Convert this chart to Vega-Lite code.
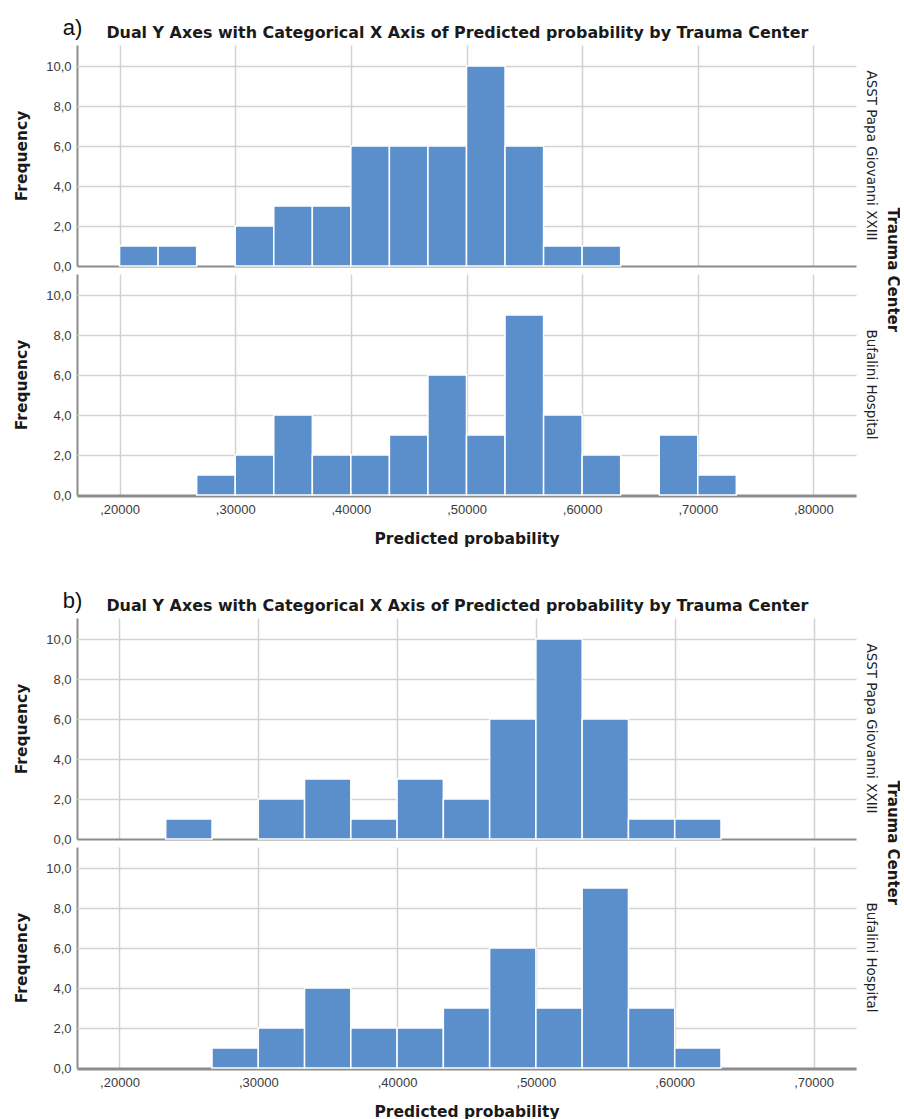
{
  "$schema": "https://vega.github.io/schema/vega-lite/v6.json",
  "background": "white",
  "padding": {"left": 14, "top": 17, "right": 0, "bottom": 0},
  "spacing": 43,
  "datasets": {
    "a": [
      {"center": "ASST Papa Giovanni XXIII", "lo": 0.20000, "hi": 0.23333, "n": 1},
      {"center": "ASST Papa Giovanni XXIII", "lo": 0.23333, "hi": 0.26667, "n": 1},
      {"center": "ASST Papa Giovanni XXIII", "lo": 0.30000, "hi": 0.33333, "n": 2},
      {"center": "ASST Papa Giovanni XXIII", "lo": 0.33333, "hi": 0.36667, "n": 3},
      {"center": "ASST Papa Giovanni XXIII", "lo": 0.36667, "hi": 0.40000, "n": 3},
      {"center": "ASST Papa Giovanni XXIII", "lo": 0.40000, "hi": 0.43333, "n": 6},
      {"center": "ASST Papa Giovanni XXIII", "lo": 0.43333, "hi": 0.46667, "n": 6},
      {"center": "ASST Papa Giovanni XXIII", "lo": 0.46667, "hi": 0.50000, "n": 6},
      {"center": "ASST Papa Giovanni XXIII", "lo": 0.50000, "hi": 0.53333, "n": 10},
      {"center": "ASST Papa Giovanni XXIII", "lo": 0.53333, "hi": 0.56667, "n": 6},
      {"center": "ASST Papa Giovanni XXIII", "lo": 0.56667, "hi": 0.60000, "n": 1},
      {"center": "ASST Papa Giovanni XXIII", "lo": 0.60000, "hi": 0.63333, "n": 1},
      {"center": "Bufalini Hospital", "lo": 0.26667, "hi": 0.30000, "n": 1},
      {"center": "Bufalini Hospital", "lo": 0.30000, "hi": 0.33333, "n": 2},
      {"center": "Bufalini Hospital", "lo": 0.33333, "hi": 0.36667, "n": 4},
      {"center": "Bufalini Hospital", "lo": 0.36667, "hi": 0.40000, "n": 2},
      {"center": "Bufalini Hospital", "lo": 0.40000, "hi": 0.43333, "n": 2},
      {"center": "Bufalini Hospital", "lo": 0.43333, "hi": 0.46667, "n": 3},
      {"center": "Bufalini Hospital", "lo": 0.46667, "hi": 0.50000, "n": 6},
      {"center": "Bufalini Hospital", "lo": 0.50000, "hi": 0.53333, "n": 3},
      {"center": "Bufalini Hospital", "lo": 0.53333, "hi": 0.56667, "n": 9},
      {"center": "Bufalini Hospital", "lo": 0.56667, "hi": 0.60000, "n": 4},
      {"center": "Bufalini Hospital", "lo": 0.60000, "hi": 0.63333, "n": 2},
      {"center": "Bufalini Hospital", "lo": 0.66667, "hi": 0.70000, "n": 3},
      {"center": "Bufalini Hospital", "lo": 0.70000, "hi": 0.73333, "n": 1}
    ],
    "b": [
      {"center": "ASST Papa Giovanni XXIII", "lo": 0.23333, "hi": 0.26667, "n": 1},
      {"center": "ASST Papa Giovanni XXIII", "lo": 0.30000, "hi": 0.33333, "n": 2},
      {"center": "ASST Papa Giovanni XXIII", "lo": 0.33333, "hi": 0.36667, "n": 3},
      {"center": "ASST Papa Giovanni XXIII", "lo": 0.36667, "hi": 0.40000, "n": 1},
      {"center": "ASST Papa Giovanni XXIII", "lo": 0.40000, "hi": 0.43333, "n": 3},
      {"center": "ASST Papa Giovanni XXIII", "lo": 0.43333, "hi": 0.46667, "n": 2},
      {"center": "ASST Papa Giovanni XXIII", "lo": 0.46667, "hi": 0.50000, "n": 6},
      {"center": "ASST Papa Giovanni XXIII", "lo": 0.50000, "hi": 0.53333, "n": 10},
      {"center": "ASST Papa Giovanni XXIII", "lo": 0.53333, "hi": 0.56667, "n": 6},
      {"center": "ASST Papa Giovanni XXIII", "lo": 0.56667, "hi": 0.60000, "n": 1},
      {"center": "ASST Papa Giovanni XXIII", "lo": 0.60000, "hi": 0.63333, "n": 1},
      {"center": "Bufalini Hospital", "lo": 0.26667, "hi": 0.30000, "n": 1},
      {"center": "Bufalini Hospital", "lo": 0.30000, "hi": 0.33333, "n": 2},
      {"center": "Bufalini Hospital", "lo": 0.33333, "hi": 0.36667, "n": 4},
      {"center": "Bufalini Hospital", "lo": 0.36667, "hi": 0.40000, "n": 2},
      {"center": "Bufalini Hospital", "lo": 0.40000, "hi": 0.43333, "n": 2},
      {"center": "Bufalini Hospital", "lo": 0.43333, "hi": 0.46667, "n": 3},
      {"center": "Bufalini Hospital", "lo": 0.46667, "hi": 0.50000, "n": 6},
      {"center": "Bufalini Hospital", "lo": 0.50000, "hi": 0.53333, "n": 3},
      {"center": "Bufalini Hospital", "lo": 0.53333, "hi": 0.56667, "n": 9},
      {"center": "Bufalini Hospital", "lo": 0.56667, "hi": 0.60000, "n": 3},
      {"center": "Bufalini Hospital", "lo": 0.60000, "hi": 0.63333, "n": 1}
    ]
  },
  "config": {
    "view": {"stroke": null},
    "axis": {
      "labelFont": "Liberation Sans", "labelFontSize": 13, "labelColor": "#3a3a3a",
      "titleFont": "DejaVu Sans", "titleFontWeight": "bold", "titleFontSize": 15.5, "titleColor": "#1a1a1a",
      "gridColor": "#d2d2d2", "gridWidth": 1.5,
      "domainColor": "#8c8c8c", "domainWidth": 2,
      "ticks": false, "tickSize": 0, "labelPadding": 6
    },
    "header": {
      "labelFont": "DejaVu Sans", "labelFontSize": 13.5, "labelColor": "#222222",
      "labelAngle": 90, "labelOrient": "right", "labelPadding": 8,
      "titleFont": "DejaVu Sans", "titleFontSize": 15, "titleFontWeight": "bold", "titleColor": "#1a1a1a",
      "titleAngle": 90, "titleOrient": "right", "titlePadding": -3
    }
  },
  "vconcat": [
    {
      "title": {"text": "a)", "anchor": "start", "font": "Liberation Sans", "fontSize": 22, "fontWeight": "normal", "color": "#111111", "dx": 48, "dy": 19},
      "vconcat": [
        {
          "title": {"text": "Dual Y Axes with Categorical X Axis of Predicted probability by Trauma Center", "anchor": "middle", "font": "DejaVu Sans", "fontSize": 15.9, "fontWeight": "bold", "color": "#1a1a1a", "offset": 4},
          "data": {"name": "a"},
          "facet": {"row": {"field": "center", "type": "nominal", "title": "Trauma Center"}},
          "spacing": {"row": 7},
          "spec": {
            "width": 779,
            "height": 221,
            "mark": {"type": "bar", "orient": "vertical", "color": "#5b8fcc", "stroke": "#ffffff", "strokeWidth": 1.5},
            "encoding": {
              "x": {
                "field": "lo", "type": "quantitative", "title": "Predicted probability",
                "scale": {"domain": [0.1675, 0.8325], "nice": false, "zero": false},
                "axis": {"values": [0.2, 0.3, 0.4, 0.5, 0.6, 0.7, 0.8], "labelExpr": "replace(format(datum.value, '.5f'), '0.', ',')", "titlePadding": 15, "labelPadding": 7}
              },
              "x2": {"field": "hi"},
              "y": {
                "field": "n", "type": "quantitative", "title": "Frequency",
                "scale": {"domain": [0, 11.05], "nice": false},
                "axis": {"values": [0, 2, 4, 6, 8, 10], "labelExpr": "replace(format(datum.value, '.1f'), '.', ',')", "titlePadding": 16,
                  "gridColor": {"condition": {"test": "datum.value === 0", "value": "#8c8c8c"}, "value": "#d2d2d2"},
                  "gridWidth": {"condition": {"test": "datum.value === 0", "value": 2}, "value": 1.5}}
              }
            }
          }
        }
      ]
    },
    {
      "title": {"text": "b)", "anchor": "start", "font": "Liberation Sans", "fontSize": 22, "fontWeight": "normal", "color": "#111111", "dx": 48, "dy": 19},
      "vconcat": [
        {
          "title": {"text": "Dual Y Axes with Categorical X Axis of Predicted probability by Trauma Center", "anchor": "middle", "font": "DejaVu Sans", "fontSize": 15.9, "fontWeight": "bold", "color": "#1a1a1a", "offset": 4},
          "data": {"name": "b"},
          "facet": {"row": {"field": "center", "type": "nominal", "title": "Trauma Center"}},
          "spacing": {"row": 7},
          "spec": {
            "width": 779,
            "height": 221,
            "mark": {"type": "bar", "orient": "vertical", "color": "#5b8fcc", "stroke": "#ffffff", "strokeWidth": 1.5},
            "encoding": {
              "x": {
                "field": "lo", "type": "quantitative", "title": "Predicted probability",
                "scale": {"domain": [0.173, 0.727], "nice": false, "zero": false},
                "axis": {"values": [0.2, 0.3, 0.4, 0.5, 0.6, 0.7], "labelExpr": "replace(format(datum.value, '.5f'), '0.', ',')", "titlePadding": 15, "labelPadding": 7}
              },
              "x2": {"field": "hi"},
              "y": {
                "field": "n", "type": "quantitative", "title": "Frequency",
                "scale": {"domain": [0, 11.05], "nice": false},
                "axis": {"values": [0, 2, 4, 6, 8, 10], "labelExpr": "replace(format(datum.value, '.1f'), '.', ',')", "titlePadding": 16,
                  "gridColor": {"condition": {"test": "datum.value === 0", "value": "#8c8c8c"}, "value": "#d2d2d2"},
                  "gridWidth": {"condition": {"test": "datum.value === 0", "value": 2}, "value": 1.5}}
              }
            }
          }
        }
      ]
    }
  ]
}
